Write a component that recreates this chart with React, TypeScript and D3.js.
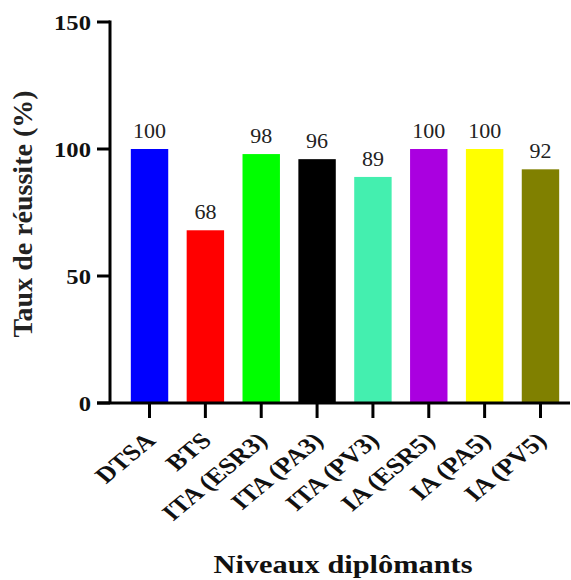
import React from "react";
import * as d3 from "d3";

const categories = ["DTSA", "BTS", "ITA (ESR3)", "ITA (PA3)", "ITA (PV3)", "IA (ESR5)", "IA (PA5)", "IA (PV5)"];
const values = [100, 68, 98, 96, 89, 100, 100, 92];
const colors = ["#0000FF", "#FF0000", "#00FF00", "#000000", "#44EFAF", "#AA00E0", "#FFFF00", "#808000"];
const yTicks = [0, 50, 100, 150];

const W = 571;
const H = 580;

export default function App() {
  const y = d3.scaleLinear().domain([0, 150]).range([403, 22]);
  const x = d3
    .scaleBand<string>()
    .domain(categories)
    .range([121.6, 568.4])
    .paddingInner(0.33)
    .paddingOuter(0.165);
  const axisX = 110;
  const y0 = y(0);
  const serif = '"Liberation Serif", Tinos, "Times New Roman", Times, serif';

  return (
    <svg
      width={W}
      height={H}
      style={{ position: "absolute", left: 0, top: 0, background: "#fff", fontFamily: serif }}
    >
      <rect x={0} y={0} width={W} height={H} fill="#fff" />
      {categories.map((c, i) => (
        <rect
          key={c}
          x={x(c)}
          y={y(values[i])}
          width={x.bandwidth()}
          height={y0 - y(values[i])}
          fill={colors[i]}
        />
      ))}
      {categories.map((c, i) => (
        <text
          key={"l" + c}
          x={x(c)! + x.bandwidth() / 2}
          y={y(values[i]) - 11}
          textAnchor="middle"
          fontSize={22}
          fill="#222"
          style={{ fontFamily: serif }}
        >
          {values[i]}
        </text>
      ))}
      {/* y axis */}
      <line x1={axisX} x2={axisX} y1={y(150) - 1.5} y2={y0} stroke="#000" strokeWidth={3} />
      {yTicks.map((t) => (
        <g key={"t" + t}>
          <line x1={97} x2={axisX} y1={y(t)} y2={y(t)} stroke="#000" strokeWidth={3} />
          <text
            transform={`translate(91,${y(t) + 7.5}) scale(1.12,1)`}
            textAnchor="end"
            fontSize={22}
            fontWeight="bold"
            fill="#111"
            style={{ fontFamily: serif }}
          >
            {t}
          </text>
        </g>
      ))}
      {/* x axis */}
      <line x1={97} x2={570} y1={y0} y2={y0} stroke="#000" strokeWidth={3} />
      {categories.map((c) => {
        const cx = x(c)! + x.bandwidth() / 2;
        return (
          <g key={"x" + c}>
            <line x1={cx} x2={cx} y1={y0} y2={y0 + 15} stroke="#000" strokeWidth={3} />
            <text
              transform={`translate(${cx + 7.5},${y0 + 39}) scale(1.2,1) rotate(-45)`}
              textAnchor="end"
              fontSize={22.5}
              fontWeight="bold"
              fill="#111"
              style={{ fontFamily: serif }}
            >
              {c}
            </text>
          </g>
        );
      })}
      <text
        transform={`translate(343,573) scale(1.24,1)`}
        textAnchor="middle"
        fontSize={24.5}
        fontWeight="bold"
        fill="#111"
        style={{ fontFamily: serif }}
      >
        Niveaux diplômants
      </text>
      <text
        transform={`translate(32,214) rotate(-90)`}
        textAnchor="middle"
        fontSize={28}
        fontWeight="bold"
        fill="#222"
        style={{ fontFamily: serif }}
      >
        Taux de réussite (%)
      </text>
    </svg>
  );
}
